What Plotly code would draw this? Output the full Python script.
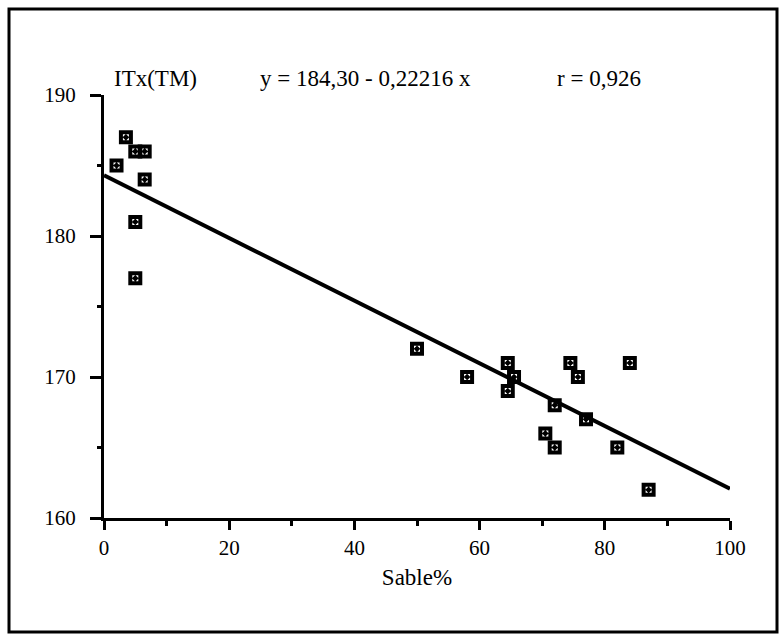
import plotly.graph_objects as go

# Sand content (%) and ITx(TM) values
sable = [2, 3.5, 5, 6.5, 6.5, 5, 5, 50, 58, 64.5, 65.5, 64.5, 72, 70.5, 72,
         74.5, 75.7, 77, 84, 82, 87]
itx = [185, 187, 186, 186, 184, 181, 177, 172, 170, 171, 170, 169, 168, 166, 165,
       171, 170, 167, 171, 165, 162]

# Fitted regression
intercept = 184.30
slope = -0.22216
r_value = 0.926
x_fit = [0, 100]
y_fit = [intercept + slope * v for v in x_fit]

W, H = 780, 634
ML, MR, MT, MB = 104, 50, 95, 116
FONT = "'Liberation Serif', 'DejaVu Serif', serif"


def px_x(p):
    return (p - ML) / (W - ML - MR)


def px_y(p):
    return 1 - (p - MT) / (H - MT - MB)


fig = go.Figure()
fig.add_trace(go.Scatter(
    x=x_fit, y=y_fit, mode="lines",
    line=dict(color="black", width=4), hoverinfo="skip"))
fig.add_trace(go.Scatter(
    x=sable, y=itx, mode="markers",
    marker=dict(symbol="square-open-dot", size=10, color="black",
                line=dict(color="black", width=4))))

fig.update_layout(
    width=W, height=H,
    margin=dict(l=ML, r=MR, t=MT, b=MB),
    paper_bgcolor="white", plot_bgcolor="white",
    showlegend=False,
    font=dict(family=FONT, color="black", size=20),
)

fig.update_xaxes(
    range=[0, 100], showgrid=False, zeroline=False,
    showline=True, linewidth=3, linecolor="black",
    tickmode="linear", tick0=0, dtick=20,
    ticks="outside", ticklen=9, tickwidth=3, tickcolor="black",
    minor=dict(dtick=10, ticks="outside", ticklen=5, tickwidth=3, tickcolor="black"),
    tickfont=dict(family=FONT, size=21),
    title=dict(text="Sable%", font=dict(family=FONT, size=23), standoff=10),
)
fig.update_yaxes(
    range=[160, 190], showgrid=False, zeroline=False,
    showline=True, linewidth=3, linecolor="black",
    tickmode="linear", tick0=160, dtick=10,
    ticks="outside", ticklen=11, tickwidth=3, tickcolor="black",
    minor=dict(dtick=5, ticks="outside", ticklen=4, tickwidth=3, tickcolor="black"),
    tickfont=dict(family=FONT, size=21),
    ticklabelstandoff=10,
)

# Header texts
eq_text = f"y = {intercept:.2f} - {abs(slope):.5f} x".replace(".", ",")
r_text = f"r = {r_value:.3f}".replace(".", ",")
for txt, xp in [("ITx(TM)", 112), (eq_text, 258), (r_text, 555)]:
    fig.add_annotation(
        text=txt, xref="paper", yref="paper",
        x=px_x(xp), y=px_y(78), xanchor="left", yanchor="middle",
        showarrow=False, font=dict(family=FONT, size=23, color="black"))

# Outer frame
fig.add_shape(type="rect", xref="paper", yref="paper",
              x0=px_x(9), x1=px_x(777), y0=px_y(632), y1=px_y(9),
              line=dict(color="black", width=3), layer="below")

fig.write_html("out.html")
